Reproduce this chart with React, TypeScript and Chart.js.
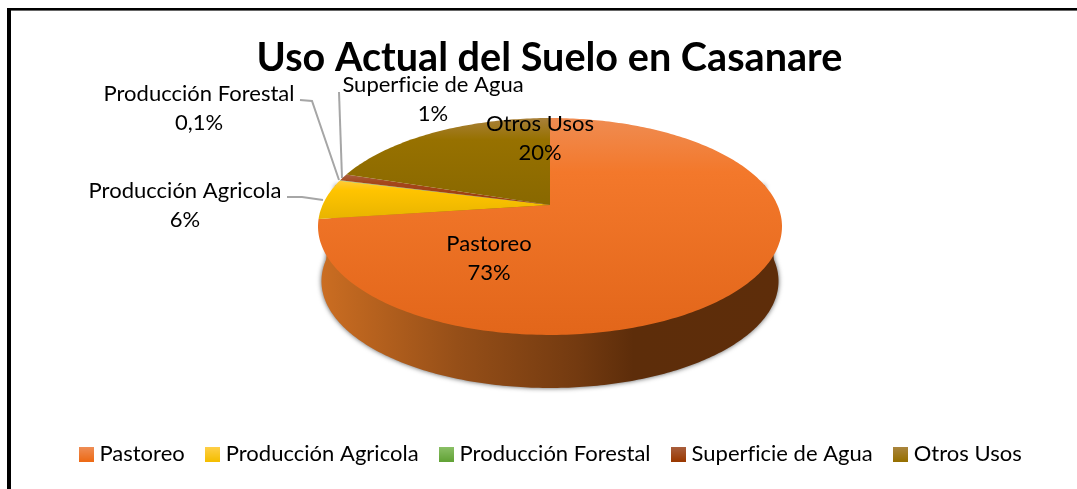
import React, { useEffect, useRef } from "react";
import { Chart, registerables } from "chart.js";

Chart.register(...registerables);

const categories = ["Pastoreo", "Producción Agricola", "Producción Forestal", "Superficie de Agua", "Otros Usos"];
const values = [73, 6, 0.1, 1, 20];
const valueLabels = ["73%", "6%", "0,1%", "1%", "20%"];
const titleText = "Uso Actual del Suelo en Casanare";

const faceStops = [
  ["#EF8C52", "#F3782B", "#E2661A"],
  ["#FFCB3A", "#FFC400", "#E8B400"],
  ["#8CC168", "#70AD47", "#5F9A38"],
  ["#A9603F", "#A5471C", "#9A3C08"],
  ["#A8803A", "#977100", "#896800"],
];
const swatchStops = [
  ["#EF8F58", "#ED6A15"],
  ["#FFD04A", "#F5BE00"],
  ["#8CC168", "#62A236"],
  ["#A9603F", "#9A3800"],
  ["#AB8640", "#967000"],
];
const sideStops: [number, string][] = [
  [0, "#CC6E22"],
  [0.3, "#964F18"],
  [0.56, "#733A10"],
  [0.68, "#5D2D0A"],
  [1, "#5E2D0A"],
];

const FONT = "Lato, 'Open Sans', sans-serif";
const LABEL_SIZE = 22;

// label layout: [centre x, first line centre y], leader polyline
const labelLayout = [
  { x: 489, y: 244, leader: null },
  { x: 185, y: 191, leader: [[287, 197], [302, 197], [323, 200]] },
  { x: 199, y: 94, leader: [[300, 100], [312, 101], [339, 180]] },
  { x: 433, y: 85, leader: [[339, 92], [342, 178]] },
  { x: 540, y: 124, leader: null },
];

const geom = { apexY: 205, R: 227.4, B: 104.2, p: 0.198, depth: 55, shrink: 0.985 };

function project(cx: number, a: number, dy = 0, s = 1) {
  const u = Math.cos(a);
  const v = -Math.sin(a);
  const d = 1 + geom.p * v;
  return { x: cx + (s * geom.R * u) / d, y: geom.apexY + dy - (s * geom.B * v) / d };
}

const pie3d = {
  id: "pie3d",
  beforeDraw(chart: any) {
    chart.ctx.letterSpacing = "0.01px";
  },
  beforeDatasetDraw() {
    return false;
  },
  beforeDatasetsDraw(chart: any) {
    const ctx = chart.ctx;
    const arcs = chart.getDatasetMeta(0).data;
    const cx = arcs[0].x + 0.5;
    const TAU = Math.PI * 2;
    ctx.save();

    // side wall
    const n = 240;
    ctx.beginPath();
    for (let i = 0; i <= n; i++) {
      const a = Math.PI - (i / n) * Math.PI;
      const p = project(cx, a, geom.depth, geom.shrink);
      if (i === 0) ctx.moveTo(p.x, p.y);
      else ctx.lineTo(p.x, p.y);
    }
    const topRight = project(cx, -0.2);
    const topLeft = project(cx, Math.PI + 0.2);
    ctx.lineTo(topRight.x, topRight.y);
    ctx.lineTo(cx, geom.apexY);
    ctx.lineTo(topLeft.x, topLeft.y);
    ctx.closePath();
    const g = ctx.createLinearGradient(cx - geom.R - 5, 0, cx + geom.R + 5, 0);
    sideStops.forEach(([o, c]) => g.addColorStop(o, c));
    ctx.fillStyle = g;
    ctx.shadowColor = "rgba(0,0,0,0.65)";
    ctx.shadowBlur = 5;
    ctx.shadowOffsetY = 0;
    ctx.fill();
    ctx.shadowColor = "transparent";
    ctx.shadowBlur = 0;

    // top faces
    arcs.forEach((arc: any, idx: number) => {
      const start = arc.startAngle;
      const end = arc.endAngle;
      const steps = Math.max(2, Math.ceil(((end - start) / TAU) * 360));
      const pts = [];
      for (let i = 0; i <= steps; i++) pts.push(project(cx, start + ((end - start) * i) / steps));
      const ys = pts.map((q) => q.y).concat(geom.apexY);
      const top = Math.min(...ys);
      const bottom = Math.max(...ys);
      const fg = ctx.createLinearGradient(0, top, 0, bottom);
      const st = faceStops[idx];
      fg.addColorStop(0, st[0]);
      fg.addColorStop(0.25, st[1]);
      fg.addColorStop(1, st[2]);
      ctx.beginPath();
      ctx.moveTo(cx, geom.apexY);
      pts.forEach((q) => ctx.lineTo(q.x, q.y));
      ctx.closePath();
      ctx.fillStyle = fg;
      ctx.fill();
    });
    ctx.restore();
  },
  afterDatasetsDraw(chart: any) {
    const ctx = chart.ctx;
    ctx.save();
    ctx.strokeStyle = "#A6A6A6";
    ctx.lineWidth = 2;
    labelLayout.forEach((l) => {
      if (!l.leader) return;
      ctx.beginPath();
      l.leader.forEach((q: number[], i: number) => (i ? ctx.lineTo(q[0], q[1]) : ctx.moveTo(q[0], q[1])));
      ctx.stroke();
    });
    ctx.fillStyle = "#000000";
    ctx.font = `${LABEL_SIZE}px ${FONT}`;
    ctx.textAlign = "center";
    ctx.textBaseline = "middle";
    categories.forEach((c, i) => {
      const l = labelLayout[i];
      ctx.fillText(c, l.x, l.y);
      ctx.fillText(valueLabels[i], l.x, l.y + 29);
    });
    ctx.restore();
  },
  afterLayout(chart: any) {
    chart.legend.left += 3;
    chart.legend.right += 3;
  },
};

function swatch(stops: string[]) {
  const c = document.createElement("canvas");
  c.width = 15;
  c.height = 15;
  const x = c.getContext("2d")!;
  const g = x.createLinearGradient(0, 0, 0, 15);
  g.addColorStop(0, stops[0]);
  g.addColorStop(1, stops[1]);
  x.fillStyle = g;
  x.fillRect(0, 0, 15, 15);
  return c;
}

export default function App() {
  const ref = useRef<HTMLCanvasElement>(null);
  useEffect(() => {
    const chart = new Chart(ref.current!, {
      type: "pie",
      data: {
        labels: categories,
        datasets: [{ data: values, backgroundColor: faceStops.map((s) => s[1]), borderWidth: 0 }],
      },
      options: {
        responsive: false,
        animation: false,
        layout: { padding: { left: 22, bottom: 14 } },
        plugins: {
          tooltip: { enabled: false },
          title: {
            display: true,
            text: titleText,
            color: "#000000",
            font: { family: FONT, size: 39.6, weight: "bold" },
            padding: { top: 34, bottom: 10 },
          },
          legend: {
            position: "bottom",
            labels: {
              usePointStyle: true,
              pointStyleWidth: 4,
              padding: 26,
              color: "#000000",
              font: { family: FONT, size: LABEL_SIZE },
              generateLabels: () =>
                categories.map((c, i) => ({
                  text: c,
                  fillStyle: faceStops[i][1],
                  strokeStyle: "transparent",
                  lineWidth: 0,
                  pointStyle: swatch(swatchStops[i]),
                  index: i,
                  hidden: false,
                })),
            },
          },
        },
      },
      plugins: [pie3d],
    } as any);
    return () => chart.destroy();
  }, []);
  return (
    <div style={{ position: "absolute", left: 0, top: 0, width: 1077, height: 489, background: "#fff", overflow: "hidden" }}>
      <canvas ref={ref} width={1077} height={489} style={{ display: "block" }} />
      <div
        style={{
          position: "absolute",
          left: 7,
          top: 8,
          right: 0,
          bottom: 0,
          borderLeft: "4px solid #000",
          borderTop: "2px solid #000",
          boxShadow: "inset 0 1px 0 #666",
        }}
      />
    </div>
  );
}
